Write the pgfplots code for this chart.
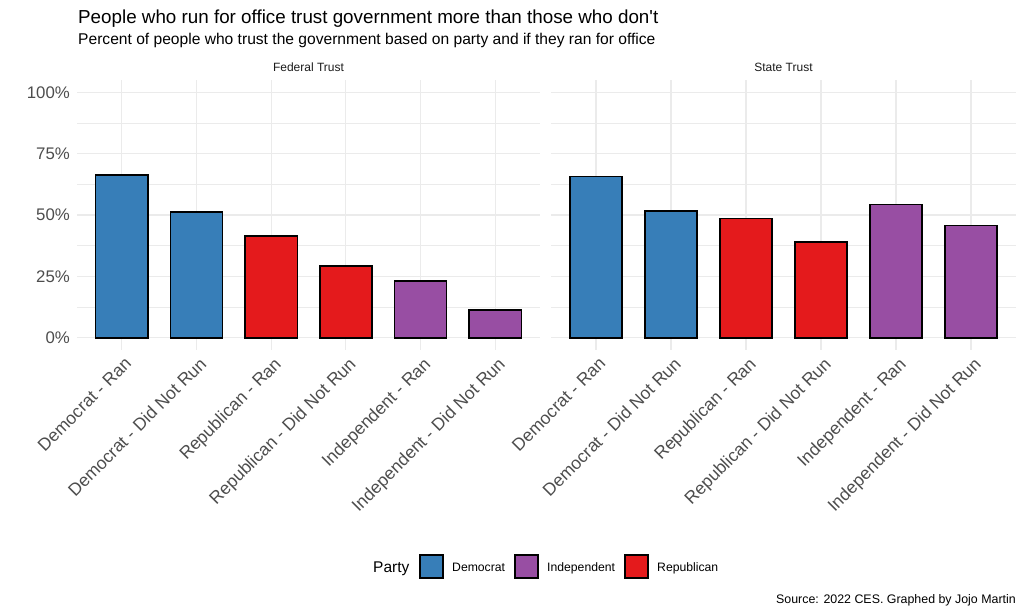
\documentclass[border=0pt]{standalone}
\usepackage{pgfplots}
\pgfplotsset{compat=1.18}
\usepackage{fontspec}
\setmainfont{Liberation Sans}
\definecolor{dem}{HTML}{377EB8}
\definecolor{rep}{HTML}{E41A1C}
\definecolor{ind}{HTML}{984EA3}
\definecolor{gridc}{HTML}{EBEBEB}
\definecolor{axtext}{HTML}{4D4D4D}
\definecolor{striptext}{HTML}{1A1A1A}

\pgfplotsset{
  panel/.style={
    scale only axis, height=270pt, anchor=south west,
    xmin=0.4, xmax=6.6, ymin=-5, ymax=105,
    axis line style={draw=none}, major tick length=0pt, minor tick length=0pt,
    xtick={1,2,3,4,5,6},
    xticklabels={Democrat - Ran, Democrat - Did Not Run, Republican - Ran, Republican - Did Not Run, Independent - Ran, Independent - Did Not Run},
    ytick={0,25,50,75,100}, minor ytick={12.5,37.5,62.5,87.5},
    grid=both,
    major grid style={gridc, line width=1.1pt},
    minor grid style={gridc, line width=0.55pt},
    ybar, bar width=0.7, bar shift=0pt,
    /pgf/number format/assume math mode=true,
    xticklabel style={xshift=2pt, yshift=-6pt, rotate=45, anchor=north east, inner sep=0pt,
      font=\fontsize{17.5}{17.5}\selectfont, text=axtext},
    yticklabel style={inner sep=0pt, xshift=-7pt,
      font=\fontsize{16.8}{16.8}\selectfont, text=axtext},
    clip=false,
  },
  barplot/.style={fill=#1, draw=black, line width=1.6pt, bar shift=0pt},
}

\begin{document}
\begin{tikzpicture}
\path[use as bounding box] (0pt,0pt) rectangle (1024pt,614pt);

% Federal panel
\begin{axis}[panel, at={(77pt,264pt)}, width=463pt,
  yticklabels={0\%,25\%,50\%,75\%,100\%}]
\addplot[barplot=dem] coordinates {(1,66.2) (2,51.3)};
\addplot[barplot=rep] coordinates {(3,41.4) (4,29.3)};
\addplot[barplot=ind] coordinates {(5,23.2) (6,11.3)};
\end{axis}

% State panel
\begin{axis}[panel, at={(551pt,264pt)}, width=465pt,
  yticklabels={}]
\addplot[barplot=dem] coordinates {(1,65.7) (2,51.7)};
\addplot[barplot=rep] coordinates {(3,48.6) (4,39.1)};
\addplot[barplot=ind] coordinates {(5,54.3) (6,45.7)};
\end{axis}

% titles
\node[anchor=base west, inner sep=0pt, font=\fontsize{18.8}{18.8}\selectfont] at (78pt,590pt)
  {People who run for office trust government more than those who don\textquotesingle t};
\node[anchor=base west, inner sep=0pt, font=\fontsize{15.6}{15.6}\selectfont] at (78pt,569pt)
  {Percent of people who trust the government based on party and if they ran for office};
% strip labels
\node[anchor=base, inner sep=0pt, font=\fontsize{12}{12}\selectfont, text=striptext] at (308.5pt,542pt) {Federal Trust};
\node[anchor=base, inner sep=0pt, font=\fontsize{12}{12}\selectfont, text=striptext] at (783.5pt,542pt) {State Trust};

% legend
\node[anchor=base west, inner sep=0pt, font=\fontsize{15.5}{15.5}\selectfont] at (373pt,42pt) {Party};
\draw[fill=dem, line width=1.5pt] (420pt,36pt) rectangle (443pt,59pt);
\node[anchor=base west, inner sep=0pt, font=\fontsize{12.2}{12.2}\selectfont] at (452pt,43pt) {Democrat};
\draw[fill=ind, line width=1.5pt] (515pt,36pt) rectangle (538pt,59pt);
\node[anchor=base west, inner sep=0pt, font=\fontsize{12.2}{12.2}\selectfont] at (547pt,43pt) {Independent};
\draw[fill=rep, line width=1.5pt] (625pt,36pt) rectangle (648pt,59pt);
\node[anchor=base west, inner sep=0pt, font=\fontsize{12.2}{12.2}\selectfont] at (657pt,43pt) {Republican};

% caption
\node[anchor=base east, inner sep=0pt, font=\fontsize{12.4}{12.4}\selectfont] at (1016pt,11pt) {Source: 2022 CES. Graphed by Jojo Martin};
\end{tikzpicture}
\end{document}
